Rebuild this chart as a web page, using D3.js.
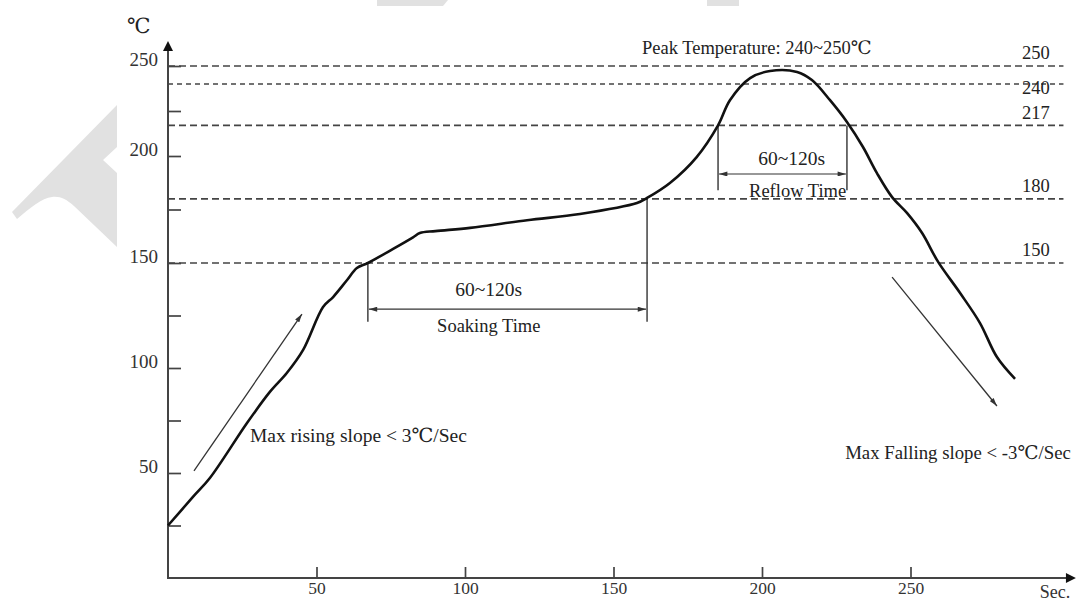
<!DOCTYPE html>
<html>
<head>
<meta charset="utf-8">
<script src="https://cdn.jsdelivr.net/npm/d3@7"></script>
<style>
  html, body { margin: 0; padding: 0; background: #fff; }
  svg { display: block; font-family: "Liberation Serif", "DejaVu Serif", serif; }
</style>
</head>
<body>
<div id="app"></div>
<script>
// reflow profile (seconds / degC)
const timeSec = [0, 8.4, 14.1, 26.6, 34.3, 40, 45.5, 52.2, 55.6, 60.3, 63.6, 67.3, 75.8, 82.5, 84.8, 90,
  101.7, 120.9, 138.7, 157.9, 161.3, 169, 178, 185.2, 189.2, 196, 202.7, 211.8, 216.8, 222.9,
  228.6, 234, 238.7, 243.8, 248.8, 253.9, 259.3, 266.7, 273.4, 279.1, 285.2];
const tempC = [25, 38.6, 47.6, 73.8, 88.6, 97.6, 108.6, 129, 133.8, 141.9, 147.6, 150, 156.6, 162, 164, 164.9,
  166.4, 170, 172.9, 178, 180.4, 187.4, 199.5, 217, 231, 243.3, 247.2, 246.7, 242.2, 231,
  218.9, 205, 192, 180.8, 173.4, 164, 150.5, 135.7, 121.4, 105.2, 94.8];

const refTemps = [250, 240, 217, 180, 150];
const xTicks = [50, 100, 150, 200, 250];
const yTicks = [25, 50, 75, 100, 125, 150, 175, 200, 225, 250];
const soakWindow = [67.3, 161.3];
const reflowWindow = [185.2, 228.6];
const riseArrow = [[8.75, 51], [45.1, 125.7]];
const fallArrow = [[243.8, 143.3], [279.1, 81.9]];

const width = 1076;
const height = 603;
const ink = '#222';

const svg = d3.select('#app').append('svg')
  .attr('width', width)
  .attr('height', height);

// faint watermark behind the scan
const wm = svg.append('g').attr('fill', '#e1e1e1');
wm.append('path').attr('d', 'M117,105 L12,212 L17,219 C30,208 42,198 52,197 C60,196 66,199 74,206 L117,247 L117,173 L103,160 L117,147 Z');
wm.append('path').attr('d', 'M377,0 L448,0 L443,6 L377,6 Z');
wm.append('path').attr('d', 'M707,0 L739,0 L739,6 L707,6 Z');

// scales (the printed y axis is not uniform, so piecewise)
const x = d3.scaleLinear().domain([0, 300]).range([168, 1059]);
const y = d3.scaleLinear().domain([0, 150, 200, 250]).range([578, 263, 156, 66]);

const defs = svg.append('defs');
defs.append('marker')
  .attr('id', 'head')
  .attr('viewBox', '0 0 10 6')
  .attr('refX', 10).attr('refY', 3)
  .attr('markerWidth', 9).attr('markerHeight', 5)
  .attr('markerUnits', 'userSpaceOnUse')
  .attr('orient', 'auto-start-reverse')
  .append('path').attr('d', 'M0,0 L10,3 L0,6 Z').attr('fill', '#333');
defs.append('marker')
  .attr('id', 'axisHead')
  .attr('viewBox', '0 0 10 10')
  .attr('refX', 2).attr('refY', 5)
  .attr('markerWidth', 18).attr('markerHeight', 10)
  .attr('markerUnits', 'userSpaceOnUse')
  .attr('orient', 'auto')
  .append('path').attr('d', 'M0,0 L10,5 L0,10 Z').attr('fill', '#111');

// dashed reference levels
svg.append('g').selectAll('line')
  .data(refTemps)
  .join('line')
  .attr('x1', x(0)).attr('x2', x(301.5))
  .attr('y1', d => y(d)).attr('y2', d => y(d))
  .attr('stroke', '#444')
  .attr('stroke-width', 1.7)
  .attr('stroke-dasharray', d => d === 240 ? '5,4' : '7,4');

svg.append('g').selectAll('text')
  .data(refTemps)
  .join('text')
  .attr('x', x(287.5))
  .attr('y', d => y(d) + (d === 240 ? 4 : -13))
  .attr('dy', '0.35em')
  .attr('font-size', 18.5)
  .attr('fill', ink)
  .text(d => d);

// axes
const xAxis = d3.axisBottom(x).tickValues(xTicks).tickSize(-11).tickPadding(4);
const yAxis = d3.axisLeft(y).tickValues(yTicks).tickSize(-13).tickPadding(10)
  .tickFormat(d => d % 50 === 0 ? d : '');

const gx = svg.append('g').attr('transform', `translate(0,${y(0)})`).call(xAxis);
const gy = svg.append('g').attr('transform', `translate(${x(0)},0)`).call(yAxis);
[gx, gy].forEach(g => {
  g.attr('font-family', null).attr('font-size', null);
  g.select('.domain').remove();
  g.selectAll('line').attr('stroke', '#444').attr('stroke-width', 1.7);
  g.selectAll('text').attr('font-size', 17.5).attr('fill', '#333');
});
gy.selectAll('text').attr('font-size', 19).attr('dy', '-0.05em');

svg.append('line')
  .attr('x1', x(0)).attr('y1', y(0))
  .attr('x2', x(0)).attr('y2', y(250) - 17)
  .attr('stroke', '#444').attr('stroke-width', 2)
  .attr('marker-end', 'url(#axisHead)');
svg.append('line')
  .attr('x1', x(0) - 1).attr('y1', y(0))
  .attr('x2', x(303)).attr('y2', y(0))
  .attr('stroke', '#444').attr('stroke-width', 2)
  .attr('marker-end', 'url(#axisHead)');

svg.append('text')
  .attr('x', x(0) - 41).attr('y', 33)
  .attr('font-size', 21).attr('fill', ink)
  .text('℃');
svg.append('text')
  .attr('x', x(293.5)).attr('y', y(0) + 14)
  .attr('dy', '0.35em')
  .attr('font-size', 18).attr('fill', '#333')
  .text('Sec.');

// soaking / reflow dimension marks
function dimension(win, tops, bottom, arrowT) {
  const g = svg.append('g').attr('stroke', '#333').attr('stroke-width', 1.4);
  win.forEach((t, i) => {
    g.append('line')
      .attr('x1', x(t)).attr('x2', x(t))
      .attr('y1', y(tops[i])).attr('y2', y(bottom));
  });
  g.append('line')
    .attr('x1', x(win[0]) + 1).attr('x2', x(win[1]) - 1)
    .attr('y1', y(arrowT)).attr('y2', y(arrowT))
    .attr('stroke-width', 1.2)
    .attr('marker-start', 'url(#head)')
    .attr('marker-end', 'url(#head)');
}
dimension(soakWindow, [150, 180], 122, 128);
dimension(reflowWindow, [217, 217], 184, 191.6);

function label(t, v, txt, size, anchor) {
  svg.append('text')
    .attr('x', x(t)).attr('y', y(v))
    .attr('dy', '0.35em')
    .attr('text-anchor', anchor)
    .attr('font-size', size)
    .attr('fill', ink)
    .text(txt);
}
label(108, 137.6, '60~120s', 19.5, 'middle');
label(108, 120, 'Soaking Time', 18.5, 'middle');
label(210, 199, '60~120s', 19.5, 'middle');
label(212, 184, 'Reflow Time', 18.5, 'middle');
label(159.6, 260.5, 'Peak Temperature: 240~250℃', 18.5, 'start');
label(27.6, 68, 'Max rising slope < 3℃/Sec', 19.5, 'start');
label(228, 60, 'Max Falling slope < -3℃/Sec', 18.8, 'start');

// slope arrows
[riseArrow, fallArrow].forEach(a => {
  svg.append('line')
    .attr('x1', x(a[0][0])).attr('y1', y(a[0][1]))
    .attr('x2', x(a[1][0])).attr('y2', y(a[1][1]))
    .attr('stroke', '#333').attr('stroke-width', 1.3)
    .attr('marker-end', 'url(#head)');
});

// the profile itself
const profile = timeSec.map((t, i) => ({ t, v: tempC[i] }));
const line = d3.line()
  .x(d => x(d.t))
  .y(d => y(d.v))
  .curve(d3.curveCatmullRom.alpha(0.5));

svg.append('path')
  .datum(profile)
  .attr('d', line)
  .attr('fill', 'none')
  .attr('stroke', '#111')
  .attr('stroke-width', 2.6)
  .attr('stroke-linejoin', 'round');
</script>
</body>
</html>
